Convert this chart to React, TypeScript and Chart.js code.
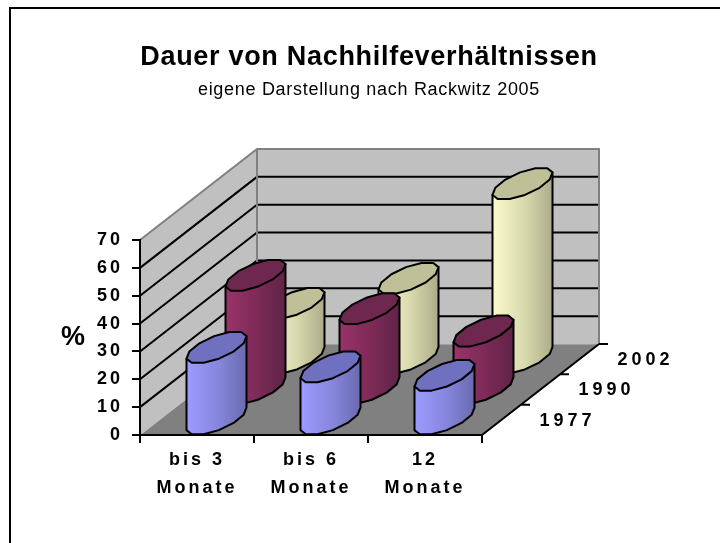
import React, { useEffect, useRef } from "react";
import { Chart, registerables } from "chart.js";

Chart.register(...registerables);

const categories = [["bis 3", "Monate"], ["bis 6", "Monate"], ["12", "Monate"]];
const years = ["1977", "1990", "2002"];
const values1977 = [26, 19, 16];
const values1990 = [41, 29, 21];
const values2002 = [20, 29, 63];

const seriesStyles = [
  { top: "#7070C0", left: "#9C9CFF", mid: "#8585DC", right: "#6A6AB0" },
  { top: "#6E2850", left: "#99336A", mid: "#7C2A56", right: "#5F2447" },
  { top: "#BFBF98", left: "#FBFBCB", mid: "#D8D8AE", right: "#ABAB88" },
];

const FONT = "'Liberation Sans', Arial, sans-serif";
const DEPTH_X = 117;
const DEPTH_Y = -91;
const SIDES = 12;

function depthCentre(index: number) {
  const f = (index + 0.5) / years.length;
  return { x: DEPTH_X * f, y: DEPTH_Y * f };
}

function ring(cx: number, cy: number, width: number) {
  const bx = DEPTH_X / years.length / 2;
  const by = (DEPTH_Y / years.length / 2) * 1.05;
  const a = (width / 2) * Math.SQRT2 - bx;
  const pts: { x: number; y: number }[] = [];
  for (let k = 0; k < SIDES; k++) {
    const t = ((15 + k * 30) * Math.PI) / 180;
    pts.push({ x: cx + a * Math.cos(t) + bx * Math.sin(t), y: cy + by * Math.sin(t) });
  }
  return pts;
}

const threeD = {
  id: "threeD",
  beforeDraw(chart: any) {
    const { ctx, chartArea: ca, scales } = chart;
    const y = scales.y;
    const l = ca.left, r = ca.right, b = y.getPixelForValue(0);
    const t = y.getPixelForValue(70);
    ctx.save();
    ctx.letterSpacing = "0px";
    // page frame
    ctx.strokeStyle = "#000";
    ctx.lineWidth = 2;
    ctx.beginPath();
    ctx.moveTo(10, 543);
    ctx.lineTo(10, 8);
    ctx.lineTo(720, 8);
    ctx.stroke();
    // walls and floor
    ctx.fillStyle = "#C0C0C0";
    ctx.beginPath();
    ctx.moveTo(l, b);
    ctx.lineTo(l, t);
    ctx.lineTo(l + DEPTH_X, t + DEPTH_Y);
    ctx.lineTo(r + DEPTH_X, t + DEPTH_Y);
    ctx.lineTo(r + DEPTH_X, b + DEPTH_Y);
    ctx.lineTo(l + DEPTH_X, b + DEPTH_Y);
    ctx.closePath();
    ctx.fill();
    ctx.fillStyle = "#808080";
    ctx.beginPath();
    ctx.moveTo(l, b);
    ctx.lineTo(r, b);
    ctx.lineTo(r + DEPTH_X, b + DEPTH_Y);
    ctx.lineTo(l + DEPTH_X, b + DEPTH_Y);
    ctx.closePath();
    ctx.fill();
    // gridlines
    ctx.strokeStyle = "#000";
    ctx.lineWidth = 2;
    y.ticks.forEach((tick: any) => {
      if (tick.value === 0 || tick.value === 70) return;
      const py = y.getPixelForValue(tick.value);
      ctx.beginPath();
      ctx.moveTo(l, py);
      ctx.lineTo(l + DEPTH_X, py + DEPTH_Y);
      ctx.lineTo(r + DEPTH_X, py + DEPTH_Y);
      ctx.stroke();
    });
    // wall edges
    ctx.strokeStyle = "#808080";
    ctx.beginPath();
    ctx.moveTo(l, t);
    ctx.lineTo(l + DEPTH_X, t + DEPTH_Y);
    ctx.lineTo(r + DEPTH_X, t + DEPTH_Y);
    ctx.lineTo(r + DEPTH_X, b + DEPTH_Y);
    ctx.moveTo(l + DEPTH_X, t + DEPTH_Y);
    ctx.lineTo(l + DEPTH_X, b + DEPTH_Y);
    ctx.stroke();
    ctx.strokeStyle = "#C0C0C0";
    ctx.lineWidth = 1;
    ctx.beginPath();
    ctx.moveTo(l, b);
    ctx.lineTo(l + DEPTH_X, b + DEPTH_Y);
    ctx.lineTo(r + DEPTH_X, b + DEPTH_Y);
    ctx.stroke();
    // depth axis with ticks
    ctx.strokeStyle = "#000";
    ctx.lineWidth = 2;
    ctx.beginPath();
    ctx.moveTo(r, b);
    ctx.lineTo(r + DEPTH_X, b + DEPTH_Y);
    for (let i = 0; i <= years.length; i++) {
      const f = i / years.length;
      ctx.moveTo(r + DEPTH_X * f, b + DEPTH_Y * f);
      if (i > 0) ctx.lineTo(r + DEPTH_X * f + 9, b + DEPTH_Y * f);
    }
    ctx.stroke();
    // depth axis labels
    ctx.fillStyle = "#000";
    ctx.font = `bold 18px ${FONT}`;
    ctx.textAlign = "left";
    ctx.textBaseline = "middle";
    ctx.letterSpacing = "4px";
    years.forEach((label, i) => {
      const d = depthCentre(i);
      ctx.fillText(label, r + d.x + 38, b + d.y + 1);
    });
    // y axis unit
    ctx.letterSpacing = "0px";
    ctx.font = `bold 27px ${FONT}`;
    ctx.textAlign = "center";
    ctx.fillText("%", 73, y.getPixelForValue(35));
    ctx.restore();
    ctx.letterSpacing = "0.7px";
  },
  beforeDatasetDraw(chart: any, args: any) {
    const { ctx } = chart;
    const style = seriesStyles[args.index];
    const d = depthCentre(args.index);
    ctx.save();
    ctx.lineWidth = 2;
    ctx.lineJoin = "round";
    ctx.strokeStyle = "#000";
    args.meta.data.forEach((el: any) => {
      const cx = el.x + d.x;
      const w = el.width;
      const top = ring(cx, el.y + d.y, w);
      const base = ring(cx, el.base + d.y, w);
      const order = [7, 8, 9, 10, 11, 0, 1];
      const grad = ctx.createLinearGradient(cx - w / 2, 0, cx + w / 2, 0);
      grad.addColorStop(0, style.left);
      grad.addColorStop(0.55, style.mid);
      grad.addColorStop(1, style.right);
      ctx.fillStyle = grad;
      ctx.beginPath();
      ctx.moveTo(top[7].x, top[7].y);
      order.forEach((k) => ctx.lineTo(base[k].x, base[k].y));
      ctx.lineTo(top[1].x, top[1].y);
      ctx.closePath();
      ctx.fill();
      ctx.stroke();
      ctx.fillStyle = style.top;
      ctx.beginPath();
      top.forEach((p, k) => (k ? ctx.lineTo(p.x, p.y) : ctx.moveTo(p.x, p.y)));
      ctx.closePath();
      ctx.fill();
      ctx.stroke();
    });
    ctx.restore();
    return false;
  },
  afterDatasetsDraw(chart: any) {
    chart.ctx.letterSpacing = "3px";
  },
};

export default function App() {
  const ref = useRef<HTMLCanvasElement>(null);
  useEffect(() => {
    document.body.style.margin = "0";
    const chart = new Chart(ref.current!, {
      type: "bar",
      data: {
        labels: categories as any,
        datasets: [
          { label: years[0], data: values1977, grouped: false, barThickness: 60 },
          { label: years[1], data: values1990, grouped: false, barThickness: 60 },
          { label: years[2], data: values2002, grouped: false, barThickness: 60 },
        ] as any,
      },
      plugins: [threeD],
      options: {
        responsive: false,
        animation: false,
        events: [],
        layout: { padding: { left: 18, right: 0, top: 0, bottom: 0 } },
        plugins: {
          legend: { display: false },
          tooltip: { enabled: false },
          title: {
            display: true,
            text: "Dauer von Nachhilfeverhältnissen",
            color: "#000",
            font: { family: FONT, size: 27, weight: "bold", lineHeight: 1.2 },
            padding: { top: 41, bottom: 2 },
          },
          subtitle: {
            display: true,
            text: "eigene Darstellung nach Rackwitz 2005",
            color: "#000",
            font: { family: FONT, size: 18, weight: "normal", lineHeight: 1.2 },
            padding: { top: 4, bottom: 139 },
          },
        },
        scales: {
          x: {
            type: "category",
            offset: true,
            afterFit(s: any) { s.height = 108; },
            border: { display: true, color: "#000", width: 2 },
            grid: { offset: true, drawOnChartArea: false, drawTicks: true, tickLength: 8, color: "#000", lineWidth: 2 },
            ticks: {
              z: 1,
              color: "#000",
              autoSkip: false,
              maxRotation: 0,
              padding: 3,
              font: { family: FONT, size: 18, weight: "bold", lineHeight: 1.55 },
            },
          },
          y: {
            type: "linear",
            min: 0,
            max: 70,
            afterFit(s: any) { s.width = 122; },
            border: { display: true, color: "#000", width: 2 },
            grid: { drawOnChartArea: false, drawTicks: true, tickLength: 8, color: "#000", lineWidth: 2 },
            ticks: {
              z: 1,
              stepSize: 10,
              color: "#000",
              padding: 9,
              font: { family: FONT, size: 18, weight: "bold" },
            },
          },
          y2: {
            type: "category",
            labels: years,
            position: "right",
            afterFit(s: any) { s.width = 238; },
            border: { display: false },
            grid: { display: false },
            ticks: { display: false },
          },
        },
      } as any,
    });
    return () => chart.destroy();
  }, []);
  return <canvas ref={ref} width={720} height={543} style={{ display: "block" }} />;
}
